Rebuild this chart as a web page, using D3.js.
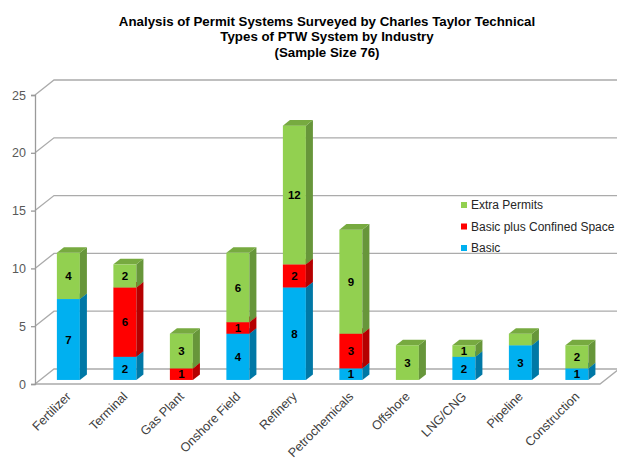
<!DOCTYPE html>
<html>
<head>
<meta charset="utf-8">
<script src="https://cdn.jsdelivr.net/npm/d3@7"></script>
<style>
  html, body { margin: 0; padding: 0; background: #fff; }
  svg { display: block; font-family: "Liberation Sans", Arial, sans-serif; }
</style>
</head>
<body>
<svg id="chart" width="617" height="459"></svg>
<script>
// Industries surveyed
const categories = ["Fertilizer", "Terminal", "Gas Plant", "Onshore Field", "Refinery",
  "Petrochemicals", "Offshore", "LNG/CNG", "Pipeline", "Construction"];

// Number of sites per PTW system type
const basic         = [7, 2, 0, 4, 8, 1, 0, 2, 3, 1];
const basicConfined = [0, 6, 1, 1, 2, 3, 0, 0, 0, 0];
const extraPermits  = [4, 2, 3, 6, 12, 9, 3, 1, 1, 2];

const seriesNames = ["Basic", "Basic plus Confined Space", "Extra Permits"];
const yTicks = [0, 5, 10, 15, 20, 25];
const titleLines = [
  "Analysis of Permit Systems Surveyed by Charles Taylor Technical",
  "Types of PTW System by Industry",
  "(Sample Size 76)"
];
// Segments printed without a value label
const unlabeled = [["Pipeline", "Extra Permits"]];

const colors = {
  "Basic":                     { front: "#00b0f0", side: "#0078a6", top: "#0094cc" },
  "Basic plus Confined Space": { front: "#ff0000", side: "#b50000", top: "#d40000" },
  "Extra Permits":             { front: "#92d050", side: "#67963a", top: "#77aa40" }
};

const svg = d3.select("#chart");

// 3D projection: depth of the floor/back wall and of the bars
const depthX = 19, depthY = -15;
const barFrontF = 0.27, barBackF = 0.64;

const x0 = 35, x1 = 600;
const yFront = d3.scaleLinear().domain([0, 25]).range([384, 95]);

const xBand = d3.scaleBand().domain(categories).range([x0, x1])
  .paddingInner(0.593).paddingOuter(0.2965);

// Stack the series
const rows = categories.map((c, i) => ({
  cat: c,
  "Basic": basic[i],
  "Basic plus Confined Space": basicConfined[i],
  "Extra Permits": extraPermits[i]
}));
const stacked = d3.stack().keys(seriesNames)(rows);

// Title
svg.append("g").selectAll("text").data(titleLines).join("text")
  .attr("x", 327).attr("y", (d, i) => 21 + i * 15.5).attr("dy", "0.35em")
  .attr("text-anchor", "middle")
  .attr("font-size", 13.3).attr("font-weight", "bold").attr("fill", "#000")
  .text(d => d);

// Back wall gridlines with their diagonal floor-to-wall segments
const grid = svg.append("g").attr("fill", "none").attr("stroke", "#ababab").attr("stroke-width", 1.3);
yTicks.forEach(v => {
  const y = yFront(v);
  grid.append("path").attr("d",
    `M${x0},${y}L${x0 + depthX},${y + depthY}L${x1 + depthX},${y + depthY}`);
});
// Front edge of the floor
grid.append("path")
  .attr("d", `M${x0},${yFront(0)}L${x1},${yFront(0)}L${x1 + depthX},${yFront(0) + depthY}`);

// Value axis
const axis = d3.axisLeft(yFront).tickValues(yTicks).tickSize(4).tickPadding(5);
const axG = svg.append("g").attr("transform", `translate(${x0},0)`).call(axis);
axG.select(".domain").attr("stroke", "#9a9a9a").attr("stroke-width", 1.3);
axG.selectAll(".tick line").attr("stroke", "#9a9a9a").attr("stroke-width", 1.3);
axG.selectAll(".tick text").attr("font-size", 12.5).attr("fill", "#595959")
  .attr("font-family", "Liberation Sans, Arial, sans-serif");

// Bars
const fx = barFrontF * depthX, fy = barFrontF * depthY;
const bdx = (barBackF - barFrontF) * depthX, bdy = (barBackF - barFrontF) * depthY;
const bw = xBand.bandwidth();

const barsG = svg.append("g");
categories.forEach((cat, i) => {
  const g = barsG.append("g");
  stacked.forEach(layer => {
    const seg = layer[i];
    if (seg[1] - seg[0] <= 0) return;
    const c = colors[layer.key];
    const left = xBand(cat) + fx, right = left + bw;
    const yb = yFront(seg[0]) + fy, yt = yFront(seg[1]) + fy;
    g.append("rect").attr("x", left).attr("y", yt).attr("width", bw).attr("height", yb - yt)
      .attr("fill", c.front);
    g.append("path").attr("fill", c.side)
      .attr("d", `M${right},${yb}L${right + bdx},${yb + bdy}L${right + bdx},${yt + bdy}L${right},${yt}Z`);
    g.append("path").attr("fill", c.top)
      .attr("d", `M${left},${yt}L${right},${yt}L${right + bdx},${yt + bdy}L${left + bdx},${yt + bdy}Z`);
  });
});

// Value labels
const labelsG = svg.append("g").attr("text-anchor", "middle")
  .attr("font-size", 11.5).attr("font-weight", "bold").attr("fill", "#000");
stacked.forEach(layer => {
  layer.forEach((seg, i) => {
    const v = seg[1] - seg[0];
    const cat = categories[i];
    if (v <= 0) return;
    if (unlabeled.some(u => u[0] === cat && u[1] === layer.key)) return;
    labelsG.append("text")
      .attr("x", xBand(cat) + fx + bw / 2)
      .attr("y", yFront((seg[0] + seg[1]) / 2) + fy)
      .attr("dy", "0.36em")
      .text(v);
  });
});

// Category labels, rotated
svg.append("g").selectAll("text").data(categories).join("text")
  .attr("transform", d => `translate(${xBand(d) + fx + bw / 2 - 3},${391}) rotate(-45)`)
  .attr("text-anchor", "end").attr("dy", "0.7em")
  .attr("font-size", 12.6).attr("fill", "#404040")
  .text(d => d);

// Legend
const legendOrder = ["Extra Permits", "Basic plus Confined Space", "Basic"];
const lg = svg.append("g").selectAll("g").data(legendOrder).join("g")
  .attr("transform", (d, i) => `translate(461,${205 + i * 21.5})`);
lg.append("rect").attr("x", 0).attr("y", -3).attr("width", 6).attr("height", 6)
  .attr("fill", d => colors[d].front);
lg.append("text").attr("x", 10).attr("dy", "0.35em")
  .attr("font-size", 12).attr("fill", "#262626").text(d => d);
</script>
</body>
</html>
